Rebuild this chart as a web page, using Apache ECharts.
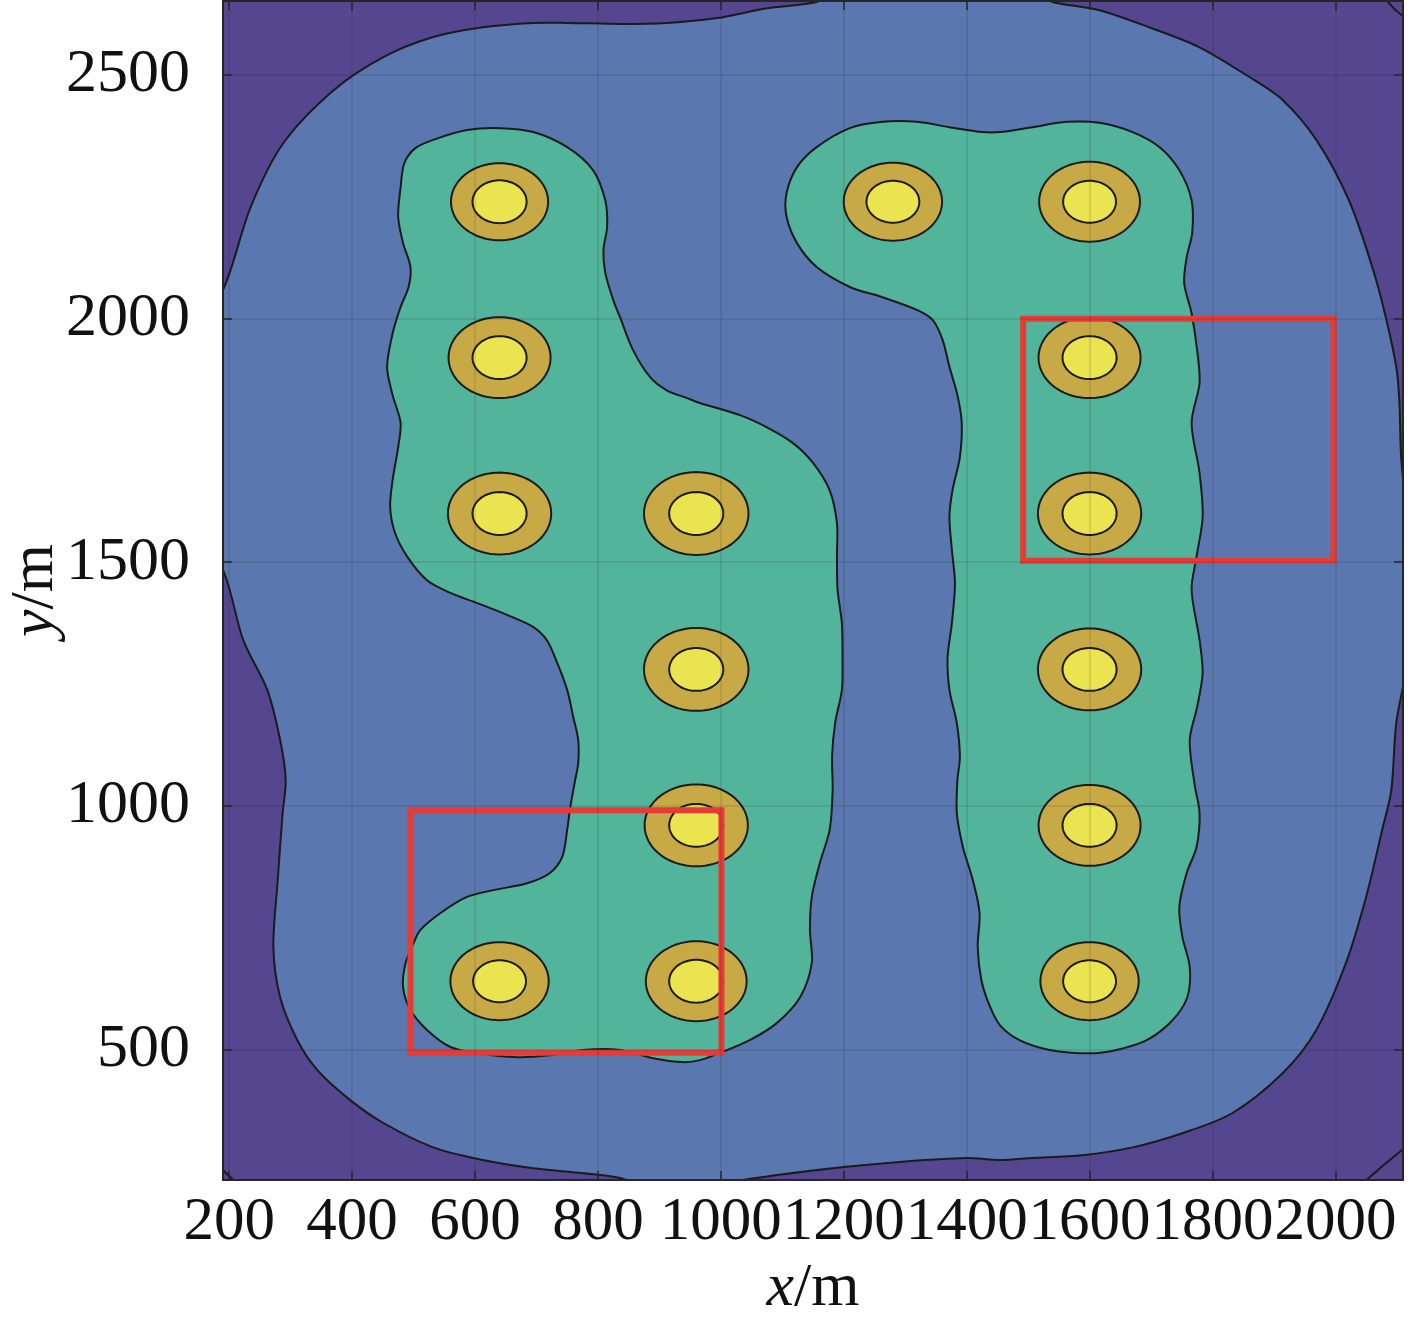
<!DOCTYPE html>
<html>
<head>
<meta charset="utf-8">
<script src="https://cdn.jsdelivr.net/npm/echarts@6/dist/echarts.min.js"></script>
<style>
html,body{margin:0;padding:0;background:#fff;}
#chart{width:1411px;height:1331px;}
</style>
</head>
<body>
<div id="chart"></div>
<script>
// ---------- data (metres) ----------
const xTicks = [200, 400, 600, 800, 1000, 1200, 1400, 1600, 1800, 2000];
const yTicks = [500, 1000, 1500, 2000, 2500];
const xRange = [190, 2110];
const yRange = [232, 2652];

// well centres and contour radii around each well
const wellX = [640, 640, 640, 960, 960, 960, 640, 960, 1280, 1600, 1600, 1600, 1600, 1600, 1600];
const wellY = [2240, 1920, 1600, 1600, 1280, 960, 640, 640, 2240, 2240, 1920, 1600, 1280, 960, 640];
const ringR = [79, 83, 84, 85, 85, 84, 80, 82, 80, 82, 83, 84, 84, 83, 80];
const coreR = [44, 44, 44, 44, 44, 44, 43, 44, 43, 43, 44, 44, 44, 44, 43];

// red boxes
const boxX0 = [495, 1492];
const boxX1 = [1001, 1997];
const boxY0 = [493, 1503];
const boxY1 = [991, 2000];

// lowest contour level (corner pockets)
const cornerTR = [[2079, 2660], [2115, 2616], [2130, 2616], [2130, 2675], [2079, 2675]];
const cornerBR = [[2130, 310], [2114, 299], [2047, 228], [2040, 215], [2130, 215]];
const cornerBL = [[150, 262], [183, 262], [190, 252], [207, 232], [214, 224], [150, 224]];

// contour level 1 (blue region)
const blueRegion = [[190,2059],[235,2229],[288,2360],[370,2469],[451,2537],[532,2578],[613,2598],[695,2607],[750,2607],[836,2605],[912,2607],[994,2617],[1075,2637],[1156,2650],[1182,2668],[1510,2668],[1540,2650],[1616,2633],[1697,2598],[1779,2557],[1860,2496],[1914,2449],[1969,2367],[2022,2243],[2060,2106],[2082,2003],[2099,1901],[2104,1833],[2107,1716],[2120,1525],[2120,1320],[2099,1170],[2091,1032],[2076,950],[2050,813],[2017,677],[1969,540],[1914,451],[1832,369],[1751,328],[1670,299],[1588,283],[1507,277],[1454,273],[1400,277],[1291,269],[1182,256],[1036,232],[966,214],[885,214],[836,236],[776,246],[695,256],[613,273],[532,299],[451,349],[397,396],[344,457],[311,519],[283,607],[272,710],[279,847],[287,985],[292,1053],[283,1135],[262,1238],[223,1340],[190,1484],[150,1545],[150,1997]];

// contour level 2 (green regions)
const greenLeft = [[479,2270],[485,2319],[503,2350],[532,2367],[587,2387],[641,2391],[695,2383],[750,2352],[792,2305],[812,2243],[815,2188],[809,2141],[812,2094],[825,2038],[836,2003],[857,1936],[885,1880],[912,1853],[945,1837],[966,1827],[1031,1802],[1075,1777],[1117,1745],[1150,1704],[1177,1648],[1189,1580],[1189,1511],[1190,1443],[1197,1375],[1198,1305],[1197,1238],[1186,1170],[1181,1100],[1182,1032],[1177,950],[1161,882],[1148,813],[1145,745],[1148,677],[1129,607],[1091,554],[1047,519],[1003,495],[966,478],[938,474],[890,482],[836,499],[776,499],[722,488],[669,484],[604,492],[560,505],[522,540],[495,581],[483,628],[487,677],[500,718],[511,745],[544,780],[587,813],[630,827],[685,841],[722,862],[742,895],[750,950],[755,997],[763,1053],[768,1088],[768,1135],[760,1182],[750,1238],[734,1293],[717,1340],[695,1367],[652,1392],[604,1416],[560,1437],[522,1463],[490,1511],[470,1560],[462,1613],[466,1669],[475,1736],[479,1786],[466,1843],[457,1901],[466,1970],[479,2024],[492,2065],[495,2106],[483,2155],[475,2209]];
const greenRight = [[1107,2258],[1124,2311],[1156,2352],[1210,2391],[1263,2404],[1319,2404],[1372,2393],[1426,2383],[1454,2383],[1507,2393],[1563,2404],[1616,2402],[1670,2383],[1714,2352],[1746,2305],[1766,2243],[1767,2176],[1758,2126],[1754,2073],[1766,2011],[1775,1936],[1779,1868],[1766,1786],[1779,1683],[1784,1593],[1774,1511],[1766,1443],[1779,1340],[1784,1272],[1775,1203],[1763,1135],[1771,1043],[1779,985],[1774,915],[1758,862],[1746,792],[1751,731],[1763,669],[1759,607],[1735,560],[1693,519],[1644,499],[1600,492],[1535,499],[1486,519],[1454,550],[1437,591],[1424,642],[1418,710],[1421,780],[1410,848],[1394,915],[1384,985],[1385,1053],[1389,1100],[1384,1170],[1372,1238],[1369,1305],[1376,1375],[1381,1457],[1376,1525],[1372,1593],[1377,1648],[1389,1716],[1392,1786],[1385,1843],[1372,1901],[1361,1956],[1345,1997],[1319,2018],[1263,2044],[1210,2065],[1156,2106],[1124,2155],[1107,2209]];

// ---------- styling ----------
const C_PURPLE = '#54468F';
const C_BLUE = '#5B77AF';
const C_GREEN = '#52B49B';
const C_GOLD = '#C7AA46';
const C_YELLOW = '#EAE450';
const C_LINE = '#1b1b1b';
const C_RED = '#E63B36';
const FONT = '"Liberation Serif", "Times New Roman", serif';

function polySeries(polys, fill, z) {
  return {
    type: 'custom', coordinateSystem: 'cartesian2d', clip: true, z: z, silent: true,
    data: polys.map((p, i) => [i]),
    renderItem: function (params, api) {
      const pts = polys[params.dataIndex].map(p => api.coord(p));
      return {
        type: 'polygon',
        shape: { points: pts, smooth: 0.3 },
        style: { fill: fill, stroke: C_LINE, lineWidth: 2 }
      };
    }
  };
}

function circlePoints(api, cx, cy, r) {
  const pts = [];
  const n = 96;
  for (let k = 0; k < n; k++) {
    const t = 2 * Math.PI * k / n;
    pts.push(api.coord([cx + r * Math.cos(t), cy + r * Math.sin(t)]));
  }
  return pts;
}

const chart = echarts.init(document.getElementById('chart'), null, { renderer: 'canvas' });

const axisLineStyle = { color: '#262626', width: 2 };
const tickStyle = { color: '#262626', width: 1.5 };
const gridLineStyle = { color: 'rgba(25,25,25,0.14)', width: 1.5 };
const plain = v => String(Math.round(v));

const option = {
  animation: false,
  backgroundColor: '#ffffff',
  grid: {
    left: 223, right: 8, top: 1, bottom: 151,
    show: true, backgroundColor: C_PURPLE, borderWidth: 0,
    containLabel: false, outerBoundsMode: 'none'
  },
  xAxis: [{
    type: 'value', min: xRange[0], max: xRange[1], position: 'bottom', z: 10,
    axisLine: { show: true, onZero: false, lineStyle: axisLineStyle },
    axisTick: { show: true, inside: true, length: 9, customValues: xTicks, lineStyle: tickStyle },
    axisLabel: { show: true, customValues: xTicks, formatter: plain, hideOverlap: false,
      showMinLabel: true, showMaxLabel: true,
      margin: 12, fontFamily: FONT, fontSize: 61, color: '#111' },
    splitLine: { show: true, lineStyle: gridLineStyle },
    name: '{i|x}/m', nameLocation: 'middle', nameGap: 78, nameMoveOverlap: false,
    nameTextStyle: { fontFamily: FONT, fontSize: 62, color: '#111',
      rich: { i: { fontFamily: FONT, fontSize: 62, fontStyle: 'italic', color: '#111' } } }
  }, {
    type: 'value', min: xRange[0], max: xRange[1], position: 'top', z: 10,
    axisLine: { show: true, onZero: false, lineStyle: axisLineStyle },
    axisTick: { show: true, inside: true, length: 9, customValues: xTicks, lineStyle: tickStyle },
    axisLabel: { show: false },
    splitLine: { show: false }
  }],
  yAxis: [{
    type: 'value', min: yRange[0], max: yRange[1], position: 'left', z: 10,
    axisLine: { show: true, onZero: false, lineStyle: axisLineStyle },
    axisTick: { show: true, inside: true, length: 9, customValues: yTicks, lineStyle: tickStyle },
    axisLabel: { show: true, customValues: yTicks, formatter: plain, hideOverlap: false,
      margin: 33, fontFamily: FONT, fontSize: 62, color: '#111' },
    splitLine: { show: true, lineStyle: gridLineStyle },
    name: '{i|y}/m', nameLocation: 'middle', nameGap: 156, nameRotate: 90, nameMoveOverlap: false,
    nameTextStyle: { fontFamily: FONT, fontSize: 62, color: '#111',
      rich: { i: { fontFamily: FONT, fontSize: 62, fontStyle: 'italic', color: '#111' } } }
  }, {
    type: 'value', min: yRange[0], max: yRange[1], position: 'right', z: 10,
    axisLine: { show: true, onZero: false, lineStyle: axisLineStyle },
    axisTick: { show: true, inside: true, length: 9, customValues: yTicks, lineStyle: tickStyle },
    axisLabel: { show: false },
    splitLine: { show: false }
  }],
  series: [
    polySeries([cornerTR, cornerBR, cornerBL], C_PURPLE, 1),
    polySeries([blueRegion], C_BLUE, 2),
    polySeries([greenLeft, greenRight], C_GREEN, 3),
    {
      type: 'custom', coordinateSystem: 'cartesian2d', clip: true, z: 4, silent: true,
      data: wellX.map((x, i) => [x, wellY[i], ringR[i], coreR[i]]),
      renderItem: function (params, api) {
        const cx = api.value(0), cy = api.value(1);
        return {
          type: 'group',
          children: [
            { type: 'polygon', shape: { points: circlePoints(api, cx, cy, api.value(2)) },
              style: { fill: C_GOLD, stroke: C_LINE, lineWidth: 2 } },
            { type: 'polygon', shape: { points: circlePoints(api, cx, cy, api.value(3)) },
              style: { fill: C_YELLOW, stroke: C_LINE, lineWidth: 2 } }
          ]
        };
      }
    },
    {
      type: 'custom', coordinateSystem: 'cartesian2d', clip: false, z: 5, silent: true,
      data: boxX0.map((x, i) => [x, boxY0[i], boxX1[i], boxY1[i]]),
      renderItem: function (params, api) {
        const p0 = api.coord([api.value(0), api.value(3)]);
        const p1 = api.coord([api.value(2), api.value(1)]);
        return {
          type: 'rect',
          shape: { x: p0[0], y: p0[1], width: p1[0] - p0[0], height: p1[1] - p0[1] },
          style: { fill: 'none', stroke: C_RED, lineWidth: 6 }
        };
      }
    }
  ]
};

chart.setOption(option);
</script>
</body>
</html>
